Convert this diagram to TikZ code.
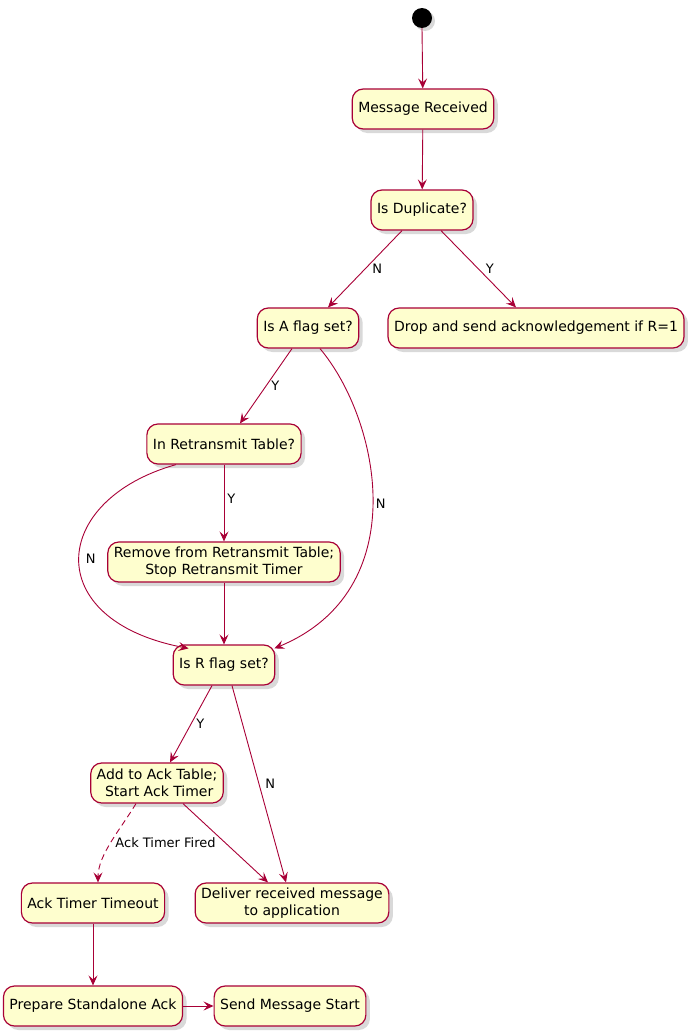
\documentclass[tikz,border=0pt]{standalone}
\definecolor{umlred}{RGB}{168, 0, 54}
\definecolor{umlfill}{RGB}{254, 254, 206}
\usepackage{fontspec}
\setmainfont{DejaVu Sans}
\usepackage{tikz}
\usetikzlibrary{shapes, arrows.meta, positioning, calc, shadows}

\tikzset{
  act/.style={draw=umlred, fill=umlfill, line width=1.2pt, rounded corners=11pt, align=center,
    minimum height=40pt, inner xsep=6pt, inner ysep=4pt, font=\fontsize{14}{16.5}\selectfont,
    drop shadow={opacity=0.3, shadow xshift=4pt, shadow yshift=-4pt}},
  flow/.style={draw=umlred, line width=0.9pt, -{Stealth[length=10pt, width=9pt, inset=4pt]}},
  lbl/.style={font=\fontsize{13}{15}\selectfont, text=black, inner sep=2pt}
}

\begin{document}
\begin{tikzpicture}[x=1pt, y=-1pt]
  \useasboundingbox (0,0) rectangle (692,1036);
  \fill[black, drop shadow={opacity=0.3, shadow xshift=3pt, shadow yshift=-3pt}] (422,18) circle (10pt);
  \coordinate (start) at (422,28);

  % activities
  \node[act] (received) at (423,109) {Message Received};
  \node[act] (dup) at (422,210) {Is Duplicate?};
  \node[act] (aflag) at (308,328) {Is A flag set?};
  \node[act] (drop) at (536,328) {Drop and send acknowledgement if R=1};
  \node[act] (inrt) at (224,444) {In Retransmit Table?};
  \node[act] (remove) at (224,562) {Remove from Retransmit Table;\\Stop Retransmit Timer};
  \node[act] (rflag) at (224,665) {Is R flag set?};
  \node[act] (addack) at (157,783) {Add to Ack Table;\\~Start Ack Timer};
  \node[act] (timeout) at (93,903) {Ack Timer Timeout};
  \node[act] (deliver) at (292,903) {Deliver received message\\to application};
  \node[act] (prepare) at (93,1006) {Prepare Standalone Ack};
  \node[act] (send) at (290,1006) {Send Message Start};

  % transitions
  \draw[flow] (start) -- (received);
  \draw[flow] (received) -- (dup);
  \draw[flow] ([xshift=-20pt]dup.south) -- node[lbl, pos=0.5, right=5pt] {N} ([xshift=20pt]aflag.north);
  \draw[flow] ([xshift=19pt]dup.south) -- node[lbl, pos=0.5, right=5pt] {Y} ([xshift=-20pt]drop.north);
  \draw[flow] ([xshift=-16pt]aflag.south) -- node[lbl, pos=0.5, right=3pt] {Y} ([xshift=16pt]inrt.north);
  \draw[flow] ([xshift=12pt]aflag.south) .. controls (380,420) and (415,590) .. node[lbl, pos=0.5, right=1pt] {N} ([xshift=-1pt, yshift=-4pt]rflag.north east);
  \draw[flow] (inrt) -- node[lbl, pos=0.45, right=1pt] {Y} (remove);
  \draw[flow] ([xshift=-48pt]inrt.south) .. controls (50,500) and (40,620) .. node[lbl, pos=0.5, right=4pt] {N} ([xshift=16pt, yshift=-4pt]rflag.north west);
  \draw[flow] (remove) -- (rflag);
  \draw[flow] ([xshift=-12pt]rflag.south) -- node[lbl, pos=0.5, right=3pt] {Y} ([xshift=13pt]addack.north);
  \draw[flow] ([xshift=8pt]rflag.south) -- node[lbl, pos=0.5, right=4pt] {N} ([xshift=-6pt]deliver.north);
  \draw[flow, dashed, dash pattern=on 6pt off 4pt] ([xshift=-21pt]addack.south) .. controls (120,830) and (98,855) .. node[lbl, pos=0.5, right=2pt] {Ack Timer Fired} ([xshift=5pt]timeout.north);
  \draw[flow] ([xshift=26pt]addack.south) -- ([xshift=-24pt]deliver.north);
  \draw[flow] (timeout) -- (prepare);
  \draw[flow] (prepare) -- (send);
\end{tikzpicture}
\end{document}
